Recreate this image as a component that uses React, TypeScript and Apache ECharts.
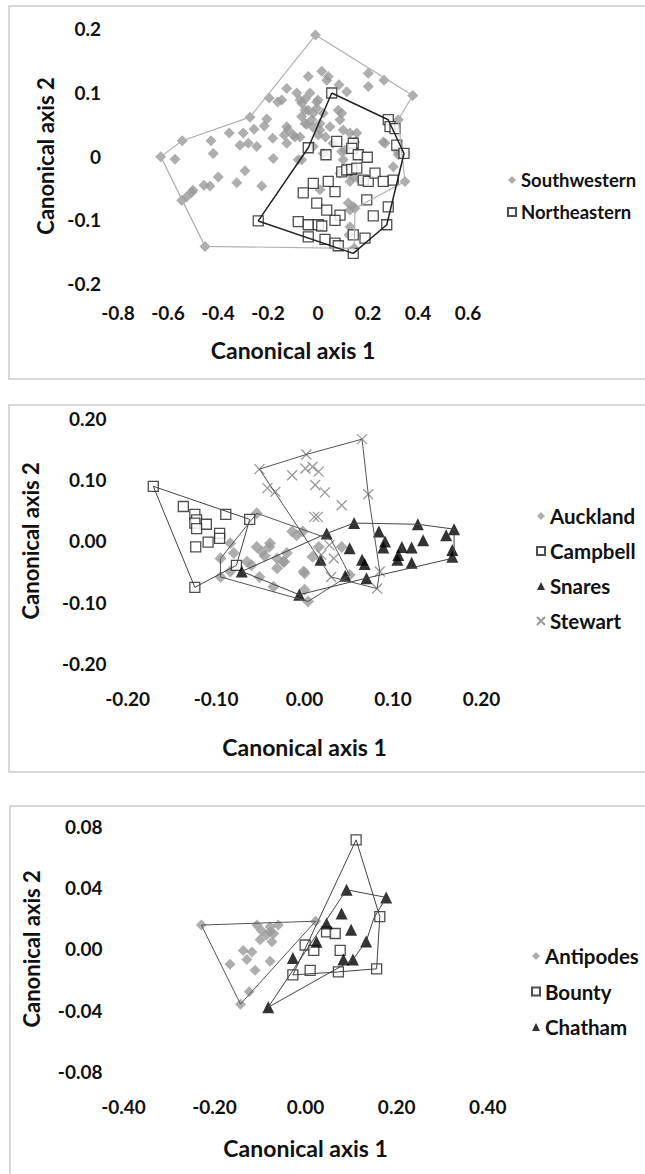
import React, { useEffect, useRef } from "react";
import * as echarts from "echarts";

// ---------- Panel 1 data ----------
const swPoints: number[][] = [
  [-0.629, -0.001], [-0.543, 0.024], [-0.572, -0.005], [-0.428, 0.024], [-0.419, 0.004],
  [-0.355, 0.036], [-0.299, 0.036], [-0.256, 0.042], [-0.272, 0.061], [-0.205, 0.058],
  [-0.215, 0.047], [-0.195, 0.091], [-0.161, 0.085], [-0.125, 0.106], [-0.312, 0.017],
  [-0.279, 0.020], [-0.245, 0.015], [-0.181, 0.028], [-0.135, 0.033], [-0.179, -0.004],
  [-0.292, -0.023], [-0.399, -0.033], [-0.456, -0.046], [-0.432, -0.047], [-0.325, -0.042],
  [-0.225, -0.047], [-0.505, -0.057], [-0.525, -0.064], [-0.545, -0.070], [-0.500, -0.054],
  [-0.452, -0.142], [-0.010, 0.190],
  [0.015, 0.133], [-0.039, 0.125], [0.041, 0.125], [0.084, 0.112], [0.115, 0.101],
  [0.201, 0.130], [0.201, 0.109], [0.264, 0.119], [-0.085, 0.099], [-0.065, 0.083],
  [-0.039, 0.072], [-0.005, 0.075], [0.021, 0.067], [0.081, 0.072], [-0.065, 0.062],
  [-0.025, 0.057], [0.008, 0.051], [0.048, 0.046], [0.088, 0.057], [-0.125, 0.046],
  [-0.099, 0.033], [0.128, 0.036], [0.148, 0.022], [0.261, 0.022], [0.001, 0.033],
  [-0.072, 0.030], [-0.019, 0.015], [0.021, 0.004], [0.101, -0.006], [0.128, -0.022],
  [0.141, -0.033], [0.168, -0.038], [0.095, 0.007], [-0.065, -0.006], [0.008, -0.053],
  [0.121, -0.074], [0.141, -0.080], [0.128, -0.111], [0.124, -0.124], [0.348, -0.040],
  [0.321, 0.057], [0.315, 0.009], [0.301, -0.017], [0.379, 0.095], [0.035, 0.119],
  [-0.050, 0.090], [0.000, 0.088], [-0.020, 0.045], [0.030, 0.030], [0.060, 0.020],
  [-0.045, 0.050], [-0.079, -0.006], [0.108, 0.009], [0.088, -0.027], [0.268, 0.020],
  [0.321, 0.002], [0.128, -0.040], [0.128, -0.085], [0.145, -0.145], [0.148, -0.082],
  [-0.052, 0.072], [-0.019, 0.067], [0.095, 0.067], [-0.052, 0.051], [0.008, 0.041],
  [-0.119, 0.041], [-0.092, 0.030], [0.155, 0.036], [0.101, 0.041], [-0.072, 0.088],
  [-0.005, 0.085], [-0.032, 0.099], [-0.145, 0.088], [-0.125, 0.020],
];
const nePoints: number[][] = [
  [0.055, 0.099], [0.281, 0.057], [0.288, 0.046], [0.308, 0.043], [0.315, 0.017],
  [0.344, 0.004], [-0.039, 0.013], [0.032, 0.002], [0.075, 0.023], [0.141, 0.020],
  [0.135, 0.012], [0.161, 0.002], [0.197, -0.002], [0.095, -0.025], [0.115, -0.022],
  [0.135, -0.021], [0.155, -0.019], [0.041, -0.040], [0.068, -0.056], [-0.019, -0.043],
  [-0.059, -0.058], [0.181, -0.038], [0.201, -0.040], [0.228, -0.027], [0.261, -0.040],
  [0.301, -0.038], [0.195, -0.069], [-0.005, -0.074], [0.035, -0.085], [0.088, -0.093],
  [0.068, -0.101], [-0.079, -0.103], [-0.039, -0.108], [0.001, -0.108], [0.015, -0.110],
  [0.221, -0.094], [0.281, -0.080], [0.275, -0.108], [-0.039, -0.127], [0.028, -0.131],
  [0.068, -0.137], [0.081, -0.141], [0.141, -0.124], [0.188, -0.129], [0.141, -0.153],
  [-0.239, -0.102],
];
const swHull: number[][] = [
  [-0.629, -0.001], [-0.543, 0.024], [-0.272, 0.061], [-0.010, 0.190], [0.379, 0.095],
  [0.321, 0.057], [0.348, -0.040], [0.148, -0.082], [0.145, -0.145], [-0.452, -0.142],
  [-0.629, -0.001],
];
const neHull: number[][] = [
  [0.055, 0.099], [0.281, 0.057], [0.344, 0.004], [0.275, -0.108], [0.141, -0.153],
  [-0.239, -0.102], [-0.039, 0.013], [0.055, 0.099],
];

// ---------- Panel 2 data ----------
const aucklandPoints: number[][] = [
  [-0.054, 0.045], [-0.084, -0.004], [-0.095, -0.029], [-0.080, -0.020], [-0.054, -0.010],
  [-0.039, -0.004], [-0.048, -0.018], [-0.031, -0.029], [-0.024, -0.034], [-0.031, -0.045],
  [-0.065, -0.034], [-0.014, 0.015], [-0.009, 0.009], [-0.001, -0.050], [-0.084, -0.050],
  [-0.095, -0.059], [-0.002, 0.015], [0.000, -0.053], [0.000, -0.080], [0.004, -0.099],
  [-0.035, -0.075], [-0.051, -0.059], [-0.023, -0.034], [0.042, -0.010], [0.051, -0.056],
  [0.016, -0.010], [0.009, -0.026], [-0.060, -0.040], [-0.045, -0.025], [-0.020, -0.020],
  [-0.040, -0.010],
];
const campbellPoints: number[][] = [
  [-0.171, 0.089], [-0.137, 0.056], [-0.124, 0.043], [-0.122, 0.034], [-0.124, 0.029],
  [-0.111, 0.027], [-0.122, 0.020], [-0.089, 0.043], [-0.062, 0.035], [-0.096, 0.012],
  [-0.096, 0.004], [-0.109, -0.002], [-0.123, -0.010], [-0.124, -0.076], [-0.077, -0.040],
];
const snaresPoints: number[][] = [
  [0.056, 0.029], [0.128, 0.027], [0.169, 0.019], [0.160, 0.009], [0.084, 0.015],
  [0.091, -0.001], [0.089, -0.011], [0.110, -0.010], [0.121, -0.011], [0.134, 0.001],
  [0.106, -0.023], [0.105, -0.031], [0.121, -0.036], [0.167, -0.015], [0.167, -0.026],
  [0.065, -0.031], [0.068, -0.038], [0.051, -0.012], [0.025, 0.012], [0.018, -0.031],
  [0.070, -0.061], [0.046, -0.057], [-0.071, -0.050], [-0.006, -0.088],
];
const stewartPoints: number[][] = [
  [-0.051, 0.117], [0.002, 0.141], [0.065, 0.166], [0.072, 0.076], [0.085, -0.050],
  [0.082, -0.078], [0.009, 0.121], [0.016, 0.113], [0.012, 0.091], [0.023, 0.079],
  [0.042, 0.058], [0.011, 0.039], [0.015, 0.039], [0.028, -0.007], [0.019, -0.023],
  [0.033, -0.029], [0.030, -0.059], [-0.042, 0.086], [-0.033, 0.080], [-0.014, 0.107],
  [0.001, 0.118],
];
const aucklandHull: number[][] = [
  [-0.054, 0.045], [0.030, 0.002], [0.051, -0.056], [0.004, -0.099], [-0.095, -0.059],
  [-0.095, -0.029], [-0.054, 0.045],
];
const campbellHull: number[][] = [
  [-0.171, 0.089], [-0.062, 0.035], [-0.077, -0.040], [-0.124, -0.076], [-0.171, 0.089],
];
const snaresHull: number[][] = [
  [-0.071, -0.050], [0.025, 0.012], [0.056, 0.029], [0.128, 0.027], [0.169, 0.019],
  [0.169, -0.028], [0.070, -0.061], [-0.006, -0.088], [-0.071, -0.050],
];
const stewartHull: number[][] = [
  [-0.051, 0.117], [0.002, 0.141], [0.065, 0.166], [0.072, 0.076], [0.085, -0.050],
  [0.082, -0.078], [0.030, -0.059], [-0.051, 0.117],
];

// ---------- Panel 3 data ----------
const antipodesPoints: number[][] = [
  [-0.229, 0.0155], [-0.143, -0.036], [0.022, 0.018], [-0.107, 0.0155], [-0.097, 0.012],
  [-0.078, 0.0144], [-0.060, 0.0155], [-0.086, 0.009], [-0.074, 0.0046], [-0.078, 0.011],
  [-0.137, -0.001], [-0.118, -0.002], [-0.129, -0.007], [-0.166, -0.010], [-0.078, -0.008],
  [-0.111, -0.014], [-0.124, -0.028], [-0.100, 0.006], [-0.070, 0.010],
];
const bountyPoints: number[][] = [
  [0.111, 0.071], [0.163, 0.021], [0.156, -0.013], [-0.028, -0.017], [0.010, -0.014],
  [0.072, -0.015], [0.046, 0.011], [0.065, 0.010], [-0.001, 0.0025], [0.018, -0.001],
  [0.076, -0.001],
];
const chathamPoints: number[][] = [
  [0.090, 0.0385], [0.177, 0.0335], [0.079, 0.023], [0.046, 0.0165], [0.100, 0.0125],
  [0.024, 0.0046], [0.133, 0.0048], [-0.028, -0.006], [0.083, -0.007], [0.104, -0.007],
  [-0.082, -0.038],
];
const antipodesHull: number[][] = [
  [-0.229, 0.0155], [0.022, 0.018], [-0.143, -0.036], [-0.229, 0.0155],
];
const bountyHull: number[][] = [
  [0.111, 0.071], [0.163, 0.021], [0.156, -0.013], [0.072, -0.015], [-0.028, -0.017],
  [0.111, 0.071],
];
const chathamHull: number[][] = [
  [-0.082, -0.038], [0.090, 0.0385], [0.177, 0.0335], [0.150, 0.020], [0.133, 0.0048],
  [0.104, -0.007], [-0.082, -0.038],
];

// ---------- axis ranges / tick labels ----------
const p1X = { min: -0.8, max: 0.6, interval: 0.2, dec: 1 };
const p1Y = { min: -0.2, max: 0.2, interval: 0.1, dec: 1 };
const p2X = { min: -0.2, max: 0.2, interval: 0.1, dec: 2 };
const p2Y = { min: -0.2, max: 0.2, interval: 0.1, dec: 2 };
const p3X = { min: -0.4, max: 0.4, interval: 0.2, dec: 2 };
const p3Y = { min: -0.08, max: 0.08, interval: 0.04, dec: 2 };

const legend1 = ["Southwestern", "Northeastern"];
const legend2 = ["Auckland", "Campbell", "Snares", "Stewart"];
const legend3 = ["Antipodes", "Bounty", "Chatham"];

const FONT = "Lato, 'Open Sans', sans-serif";
const CROSS = "path://M0,0L10,10M10,0L0,10";

function fmt(dec: number) {
  return (v: number) => {
    if (dec === 1 && Math.abs(v) < 1e-9) return "0";
    const s = v.toFixed(dec);
    return s === "-0.00" ? "0.00" : s;
  };
}

const TICK = 19;
const TITLE = 23;

function xAxisFor(i: number, r: any, labelMargin: number, nameGap: number) {
  return {
    type: "value", gridIndex: i, min: r.min, max: r.max, interval: r.interval,
    axisLine: { show: false }, axisTick: { show: false }, splitLine: { show: false },
    axisLabel: { formatter: fmt(r.dec), margin: labelMargin, fontFamily: FONT, fontWeight: "bold", fontSize: TICK, color: "#111" },
    name: "Canonical axis 1", nameLocation: "middle", nameGap,
    nameTextStyle: { fontFamily: FONT, fontWeight: "bold", fontSize: TITLE, color: "#111" },
  };
}
function yAxisFor(i: number, r: any, labelMargin: number, nameGap: number) {
  return {
    type: "value", gridIndex: i, min: r.min, max: r.max, interval: r.interval,
    axisLine: { show: false }, axisTick: { show: false }, splitLine: { show: false },
    axisLabel: { formatter: fmt(r.dec), margin: labelMargin, fontFamily: FONT, fontWeight: "bold", fontSize: TICK, color: "#111" },
    name: "Canonical axis 2", nameLocation: "middle", nameGap,
    nameTextStyle: { fontFamily: FONT, fontWeight: "bold", fontSize: TITLE - 1, color: "#111" },
  };
}

const diamond = (name: string, data: number[][], idx: number, size = 11) => ({
  type: "scatter", name, data, xAxisIndex: idx, yAxisIndex: idx, symbol: "diamond", symbolSize: size,
  itemStyle: { color: "#9a9a9a" }, z: 3,
});
const square = (name: string, data: number[][], idx: number, size = 10) => ({
  type: "scatter", name, data, xAxisIndex: idx, yAxisIndex: idx, symbol: "rect", symbolSize: size,
  itemStyle: { color: "#ffffff", borderColor: "#222", borderWidth: 1.3 }, z: 4,
});
const triangle = (name: string, data: number[][], idx: number, size = 12) => ({
  type: "scatter", name, data, xAxisIndex: idx, yAxisIndex: idx, symbol: "triangle", symbolSize: size,
  itemStyle: { color: "#000000" }, z: 4,
});
const cross = (name: string, data: number[][], idx: number, size = 10) => ({
  type: "scatter", name, data, xAxisIndex: idx, yAxisIndex: idx, symbol: CROSS, symbolSize: size,
  itemStyle: { color: "rgba(0,0,0,0)", borderColor: "#808080", borderWidth: 1.3 }, z: 4,
});
const hull = (name: string, data: number[][], idx: number, color: string, width: number) => ({
  type: "line", name, data, xAxisIndex: idx, yAxisIndex: idx, symbol: "none", silent: true,
  lineStyle: { color, width }, z: 5,
});

const legendBase = {
  orient: "vertical", itemWidth: 8, itemHeight: 8, padding: 0,
  selectedMode: false,
};
const legendText = (size: number, lh: number) => ({
  fontFamily: FONT, fontWeight: "bold", fontSize: size, color: "#111", lineHeight: lh,
});

export default function App() {
  const ref = useRef<HTMLDivElement>(null);
  useEffect(() => {
    if (!ref.current) return;
    const chart = echarts.init(ref.current, undefined, { renderer: "svg" });
    chart.setOption({
      animation: false,
      backgroundColor: "#ffffff",
      graphic: [
        { type: "rect", shape: { x: 9, y: 6, width: 700, height: 373 }, style: { fill: "none", stroke: "#cccccc", lineWidth: 1.5 }, silent: true },
        { type: "rect", shape: { x: 9, y: 405, width: 700, height: 367 }, style: { fill: "none", stroke: "#cccccc", lineWidth: 1.5 }, silent: true },
        { type: "rect", shape: { x: 10, y: 806, width: 700, height: 420 }, style: { fill: "none", stroke: "#cccccc", lineWidth: 1.5 }, silent: true },
      ],
      grid: [
        { left: 118, top: 28.7, width: 350, height: 254.6 },
        { left: 127.6, top: 418.3, width: 353.9, height: 245 },
        { left: 123.5, top: 826, width: 364.2, height: 245.7 },
      ],
      xAxis: [xAxisFor(0, p1X, 20, 55), xAxisFor(1, p2X, 26, 72), xAxisFor(2, p3X, 25, 65)],
      yAxis: [yAxisFor(0, p1Y, 17, 60), yAxisFor(1, p2Y, 21, 86), yAxisFor(2, p3Y, 21, 81)],
      legend: [
        { ...legendBase, data: legend1, left: 507, top: 170, itemGap: 12, textStyle: legendText(18.5, 20) },
        { ...legendBase, data: legend2, left: 536, top: 505, itemGap: 13, textStyle: legendText(20.5, 22) },
        { ...legendBase, data: legend3, left: 531, top: 945, itemGap: 13.5, textStyle: legendText(20.5, 22) },
      ],
      series: [
        diamond(legend1[0], swPoints, 0),
        square(legend1[1], nePoints, 0),
        hull("swHull", swHull, 0, "#b0b0b0", 1.2),
        hull("neHull", neHull, 0, "#222222", 1.5),

        diamond(legend2[0], aucklandPoints, 1, 12),
        square(legend2[1], campbellPoints, 1),
        triangle(legend2[2], snaresPoints, 1),
        cross(legend2[3], stewartPoints, 1),
        hull("aucklandHull", aucklandHull, 1, "#555555", 1),
        hull("campbellHull", campbellHull, 1, "#444444", 1),
        hull("snaresHull", snaresHull, 1, "#444444", 1),
        hull("stewartHull", stewartHull, 1, "#555555", 1),

        diamond(legend3[0], antipodesPoints, 2),
        square(legend3[1], bountyPoints, 2),
        triangle(legend3[2], chathamPoints, 2),
        hull("antipodesHull", antipodesHull, 2, "#555555", 1),
        hull("bountyHull", bountyHull, 2, "#444444", 1),
        hull("chathamHull", chathamHull, 2, "#444444", 1),
      ],
    });
    return () => chart.dispose();
  }, []);
  return (
    <div
      ref={ref}
      style={{ position: "absolute", left: 0, top: 0, width: 645, height: 1174, background: "#fff" }}
    />
  );
}
